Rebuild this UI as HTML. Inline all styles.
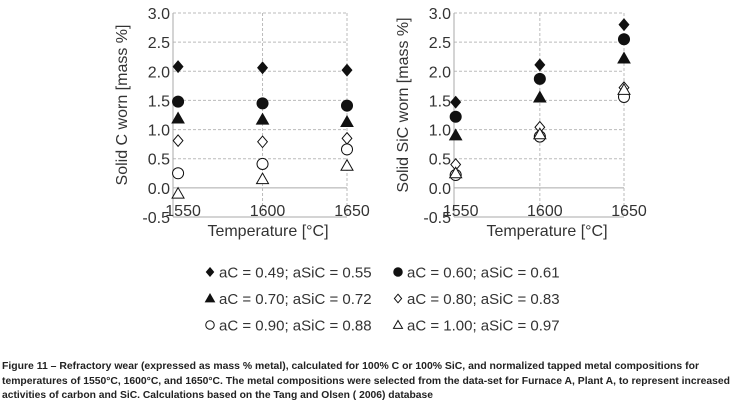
<!DOCTYPE html>
<html><head><meta charset="utf-8"><style>
body{margin:0;background:#fff}
svg{display:block;font-family:"Liberation Sans",sans-serif}
</style></head><body>
<svg id="fig" width="734" height="407" viewBox="0 0 734 407" xmlns="http://www.w3.org/2000/svg">
<g id="left"></g>
<g id="right"></g>
<g id="legend"></g>
<g font-weight="bold" font-size="10" fill="#222">
<text x="2" y="369" textLength="697" lengthAdjust="spacingAndGlyphs">Figure 11 – Refractory wear (expressed as mass % metal), calculated for 100% C or 100% SiC, and normalized tapped metal compositions for</text>
<text x="2" y="384" textLength="728" lengthAdjust="spacingAndGlyphs">temperatures of 1550°C, 1600°C, and 1650°C. The metal compositions were selected from the data-set for Furnace A, Plant A, to represent increased</text>
<text x="2" y="398" textLength="431" lengthAdjust="spacingAndGlyphs">activities of carbon and SiC. Calculations based on the Tang and Olsen ( 2006) database</text>
</g>
</svg>
<script>
const temps=[1550,1600,1650];
const yTicks=["-0.5","0.0","0.5","1.0","1.5","2.0","2.5","3.0"];
const seriesLabels=["aC = 0.49; aSiC = 0.55","aC = 0.60; aSiC = 0.61","aC = 0.70; aSiC = 0.72","aC = 0.80; aSiC = 0.83","aC = 0.90; aSiC = 0.88","aC = 1.00; aSiC = 0.97"];
const markerTypes=["diamond-filled","circle-filled","triangle-filled","diamond-open","circle-open","triangle-open"];
const cD1=[2.08,2.06,2.02], cC1=[1.48,1.45,1.41], cT1=[1.19,1.17,1.13], cD2=[0.81,0.79,0.85], cC2=[0.25,0.41,0.66], cT2=[-0.10,0.15,0.38];
const sD1=[1.47,2.11,2.80], sC1=[1.22,1.87,2.55], sT1=[0.90,1.55,2.22], sD2=[0.40,1.04,1.72], sC2=[0.22,0.88,1.56], sT2=[0.25,0.92,1.68];
const NS="http://www.w3.org/2000/svg";
function mk(tag,attrs,parent){const e=document.createElementNS(NS,tag);for(const k in attrs)e.setAttribute(k,attrs[k]);parent.appendChild(e);return e;}
function marker(g,type,x,y,s){
  const fill=type.endsWith("filled")?"#111":"#fff";
  let e;
  if(type.startsWith("diamond")){const r=s*0.95;e=mk("polygon",{points:`${x},${y-r} ${x+r*0.85},${y} ${x},${y+r} ${x-r*0.85},${y}`,fill:fill,stroke:"#111","stroke-width":1},g);}
  else if(type.startsWith("circle")){e=mk("circle",{cx:x,cy:y,r:s*0.85,fill:fill,stroke:"#111","stroke-width":1},g);}
  else{const r=s;e=mk("polygon",{points:`${x},${y-r} ${x+r},${y+r*0.75} ${x-r},${y+r*0.75}`,fill:fill,stroke:"#111","stroke-width":1},g);}
  return e;
}
function chart(gid,x0,x1,xLeftDomain,title,series){
  const g=document.getElementById(gid);
  const ymin=-0.5,ymax=3.0,yTop=13,yBot=217;
  const X=v=>x0+(v-xLeftDomain)/(1650-xLeftDomain)*(x1-x0);
  const Y=v=>yBot-(v-ymin)/(ymax-ymin)*(yBot-yTop);
  const left=X(xLeftDomain), right=X(1650);
  yTicks.forEach(t=>{const v=parseFloat(t);const y=Y(v);
    let l;
    if(v===0||v===ymin){l=mk("line",{x1:left,x2:right,y1:y,y2:y,stroke:"#aaa","stroke-width":1},g);}
    else{l=mk("line",{x1:left,x2:right,y1:y,y2:y,stroke:"#bbb","stroke-width":1,"stroke-dasharray":"3,2"},g);}
    
    
    const tx=mk("text",{x:left-3,y:y+6,"text-anchor":"end","font-size":16,fill:"#333"},g);tx.textContent=t;
    
    
  });
  const bl=mk("line",{x1:left,x2:left,y1:yTop,y2:yBot,stroke:"#aaa"},g);
  
  
  temps.forEach(t=>{const x=X(t);
    if(t!==1550){const l=mk("line",{x1:x,x2:x,y1:yTop,y2:yBot,stroke:"#bbb","stroke-dasharray":"3,2"},g);
      
      }
    const tx=mk("text",{x:x+5,y:216,"text-anchor":"middle","font-size":16,fill:"#333"},g);tx.textContent=t;
    
    
  });
  const xt=mk("text",{x:(left+right)/2+8,y:236,"text-anchor":"middle","font-size":16,fill:"#333"},g);xt.textContent="Temperature [°C]";
  
  
  const yt=mk("text",{x:0,y:0,"text-anchor":"middle","font-size":16,fill:"#333",transform:`translate(${left-46},${(yTop+yBot)/2-10}) rotate(-90)`},g);yt.textContent=title;
  
  
  series.forEach((vals,si)=>{vals.forEach((v,i)=>{
    const m=marker(g,markerTypes[si],X(temps[i]),Y(v),si===1||si===4?6.5:6);
    
    
  });});
}
chart("left",173,347,1547,"Solid C worn [mass %]",[cD1,cC1,cT1,cD2,cC2,cT2]);
chart("right",454,624,1549,"Solid SiC worn [mass %]",[sD1,sC1,sT1,sD2,sC2,sT2]);
const lg=document.getElementById("legend");
seriesLabels.forEach((lab,i)=>{
  const col=i%2,row=Math.floor(i/2);
  const mx=col?398:210, y=272+row*26.5;
  const m=marker(lg,markerTypes[i],mx,y,i%3===1?5:4.5);
  
  
  const t=mk("text",{x:mx+9,y:y+5.5,"font-size":15,fill:"#333"},lg);t.textContent=lab;
  
  
});
</script>
</body></html>
